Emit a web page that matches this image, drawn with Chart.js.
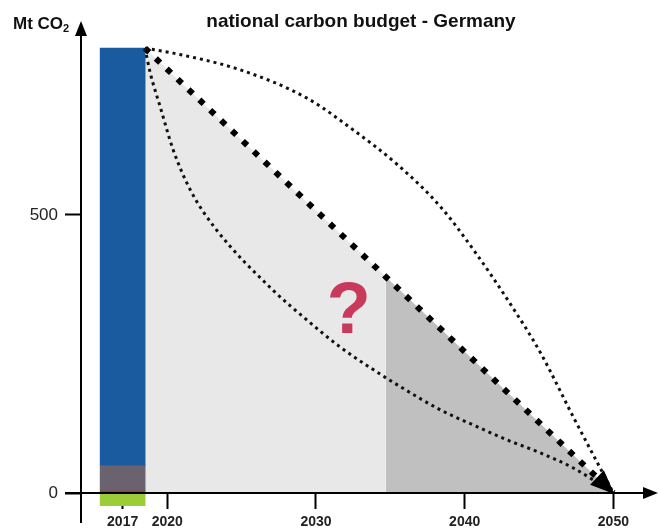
<!DOCTYPE html>
<html>
<head>
<meta charset="utf-8">
<script src="https://cdn.jsdelivr.net/npm/chart.js@4.4.0/dist/chart.umd.min.js"></script>
<style>
  html, body { margin: 0; padding: 0; background: #fff; }
  #wrap { width: 659px; height: 530px; }
</style>
</head>
<body>
<div id="wrap"><canvas id="budgetChart"></canvas></div>
<script>
// --- data ---
const xTickYears = [2017, 2020, 2030, 2040, 2050];
const yTickValues = [0, 500];

// 2017 emissions bar, stacked parts (Mt CO2)
const barYears = [2017];
const sinkPart = [-23];     // green, below zero
const thinPart = [4];       // brown strip
const otherPart = [45];     // grey
const energyPart = [751];   // blue

// remaining budget, shaded under the straight path
const shadeYears = [2018.5, 2034.7, 2050];
const shadeValues = [800, 389, 0];

// pathways to zero
const linearYears = [2018.5, 2050];
const linearValues = [800, 0];

const lateYears = [2018.5, 2020.4, 2024.9, 2029.4, 2032.5, 2035.5, 2038.4, 2040.6, 2042.9, 2045.1, 2047.3, 2050];
const lateValues = [800, 791, 761, 710, 653, 590, 514, 437, 347, 252, 137, 0];

const earlyYears = [2018.5, 2018.86, 2019.53, 2020.4, 2021.55, 2023.2, 2027.1, 2029.4, 2031.6, 2033.9, 2035.5, 2038.4, 2040.6, 2042.9, 2045.1, 2047.3, 2050];
const earlyValues = [800, 755, 694, 617, 545, 477, 365, 311, 263, 221, 194, 149, 122, 95, 72, 45, 0];

function toPoints(xs, ys) {
    return xs.map((x, i) => ({ x: x, y: ys[i] }));
}

function barSet(values, color) {
    return {
        type: 'bar',
        data: toPoints(barYears, values),
        backgroundColor: color,
        borderWidth: 0,
        barThickness: 45,
        stack: 'bar',
        clip: false,
        order: 1
    };
}

function dottedLine(xs, ys, key) {
    return {
        type: 'line',
        data: toPoints(xs, ys),
        borderColor: '#111',
        borderWidth: 3,
        borderDash: [3, 4],
        borderCapStyle: 'butt',
        cubicInterpolationMode: 'monotone',
        pointRadius: 0,
        fill: false,
        stack: key,
        order: 0
    };
}

const X_MIN = 2014.2;
const X_MAX = 2053.0;
const Y_MAX = 847;

// axes with arrows, line arrowhead, question mark, title
const decorations = {
    id: 'decorations',
    afterDatasetsDraw(chart) {
        const ctx = chart.ctx;
        const xs = chart.scales.x, ys = chart.scales.y;
        const ox = chart.chartArea.left;
        const oy = ys.getPixelForValue(0);
        ctx.save();
        ctx.strokeStyle = '#000';
        ctx.fillStyle = '#000';
        ctx.lineWidth = 2;
        // y axis
        ctx.beginPath();
        ctx.moveTo(ox, oy + 30);
        ctx.lineTo(ox, chart.chartArea.top + 10);
        ctx.stroke();
        ctx.beginPath();
        ctx.moveTo(ox, chart.chartArea.top - 1);
        ctx.lineTo(ox - 6, chart.chartArea.top + 14);
        ctx.lineTo(ox + 6, chart.chartArea.top + 14);
        ctx.closePath();
        ctx.fill();
        // x axis
        ctx.beginPath();
        ctx.moveTo(ox - 16, oy);
        ctx.lineTo(chart.chartArea.right - 10, oy);
        ctx.stroke();
        ctx.beginPath();
        ctx.moveTo(chart.chartArea.right, oy);
        ctx.lineTo(chart.chartArea.right - 15, oy - 6);
        ctx.lineTo(chart.chartArea.right - 15, oy + 6);
        ctx.closePath();
        ctx.fill();

        // arrowhead where the pathways meet zero
        const sx = xs.getPixelForValue(linearYears[0]), sy = ys.getPixelForValue(linearValues[0]);
        const tx = xs.getPixelForValue(linearYears[1]) + 1, ty = ys.getPixelForValue(linearValues[1]) + 1;
        const len = Math.hypot(tx - sx, ty - sy);
        const ux = (tx - sx) / len, uy = (ty - sy) / len;
        const L = 24, W = 10;
        ctx.beginPath();
        ctx.moveTo(tx, ty);
        ctx.lineTo(tx - L * ux - W * uy, ty - L * uy + W * ux);
        ctx.lineTo(tx - L * ux + W * uy, ty - L * uy - W * ux);
        ctx.closePath();
        ctx.fill();

        // question mark
        ctx.fillStyle = '#c8395b';
        ctx.font = 'bold 72px "Liberation Sans", Arial, sans-serif';
        ctx.textAlign = 'center';
        ctx.textBaseline = 'alphabetic';
        ctx.fillText('?', xs.getPixelForValue(2032.2), ys.getPixelForValue(288));
        ctx.restore();
    },
    afterDraw(chart) {
        const ctx = chart.ctx;
        ctx.save();
        ctx.fillStyle = '#111';
        ctx.textBaseline = 'alphabetic';
        ctx.textAlign = 'center';
        ctx.font = 'bold 19px "Liberation Sans", Arial, sans-serif';
        ctx.fillText('national carbon budget - Germany', 361, 27);
        ctx.textAlign = 'left';
        ctx.font = 'bold 17px "Liberation Sans", Arial, sans-serif';
        ctx.fillText('Mt CO', 13, 29);
        const w = ctx.measureText('Mt CO').width;
        ctx.font = 'bold 11px "Liberation Sans", Arial, sans-serif';
        ctx.fillText('2', 13 + w, 32);
        ctx.restore();
    }
};

Chart.defaults.font.family = '"Liberation Sans", Arial, sans-serif';

new Chart(document.getElementById('budgetChart'), {
    data: {
        datasets: [
            {
                type: 'line',
                data: toPoints(shadeYears.slice(0, 2), shadeValues.slice(0, 2)),
                backgroundColor: '#e8e8e8',
                borderWidth: 0,
                pointRadius: 0,
                fill: 'origin',
                stack: 'shadeLight',
                order: 2
            },
            {
                type: 'line',
                data: toPoints(shadeYears.slice(1), shadeValues.slice(1)),
                backgroundColor: '#c0c0c0',
                borderWidth: 0,
                pointRadius: 0,
                fill: 'origin',
                stack: 'shadeDark',
                order: 2
            },
            barSet(sinkPart, '#9bcd38'),
            barSet(thinPart, '#8a4a30'),
            barSet(otherPart, '#6a636f'),
            barSet(energyPart, '#1a5b9f'),
            dottedLine(lateYears, lateValues, 'late'),
            dottedLine(earlyYears, earlyValues, 'early'),
            {
                type: 'line',
                data: toPoints(linearYears, linearValues),
                borderColor: '#000',
                borderWidth: 6,
                borderDash: [6, 9],
                borderCapStyle: 'butt',
                pointRadius: 0,
                fill: false,
                stack: 'linear',
                order: 0
            }
        ]
    },
    options: {
        responsive: true,
        maintainAspectRatio: false,
        animation: false,
        layout: { padding: { top: 22, right: 1, left: 0, bottom: 0 } },
        plugins: {
            legend: { display: false },
            tooltip: { enabled: false }
        },
        scales: {
            x: {
                type: 'linear',
                min: X_MIN,
                max: X_MAX,
                offset: false,
                afterBuildTicks: scale => { scale.ticks = xTickYears.map(v => ({ value: v })); },
                afterFit: scale => { scale.height = 37; },
                border: { display: false },
                grid: {
                    offset: false,
                    drawOnChartArea: false,
                    tickLength: 16,
                    tickWidth: 2,
                    tickColor: '#000'
                },
                ticks: {
                    color: '#222',
                    font: { size: 14, weight: 'bold' },
                    padding: 5,
                    maxRotation: 0,
                    autoSkip: false,
                    callback: v => String(v)
                }
            },
            y: {
                type: 'linear',
                min: 0,
                max: Y_MAX,
                stacked: true,
                afterBuildTicks: scale => { scale.ticks = yTickValues.map(v => ({ value: v })); },
                afterFit: scale => { scale.width = 81; },
                border: { display: false },
                grid: {
                    drawOnChartArea: false,
                    tickLength: 16,
                    tickWidth: 2,
                    tickColor: '#000'
                },
                ticks: {
                    color: '#222',
                    font: { size: 17 },
                    padding: 7
                }
            }
        }
    },
    plugins: [decorations]
});
</script>
</body>
</html>
